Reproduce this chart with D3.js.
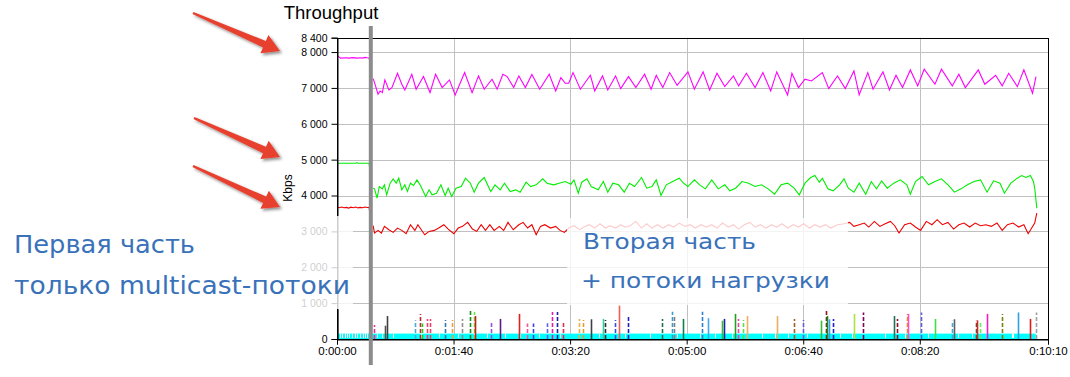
<!DOCTYPE html>
<html><head><meta charset="utf-8">
<script src="https://cdn.jsdelivr.net/npm/d3@7"></script>
<style>body{margin:0;background:#fff}svg{display:block}</style>
</head><body>
<svg id="c" width="1070" height="377"></svg>
<script>
// ---------------- DATA ----------------
const yTicks = [0,1000,2000,3000,4000,5000,6000,7000,8000,8400];
const xTicks = [0,100,200,300,400,500,610];
const breakTime = 29;

const magentaPart1 = [[0,7900],[2,7860],[3,7830],[8,7840],[10,7830],[14,7845],[17,7830],[20,7840],[22,7830],[24,7850],[26,7840],[27.5,7835],[28,7760]];
const magentaPart2 = [[31,7260],[32.2,7149],[35.2,6823],[37,6916],[38.9,6870],[41.1,7223],[44.5,6944],[47.1,7009],[51.9,7409],[55.6,7102],[58.2,6944],[64.2,7381],[67.9,6963],[74.2,7316],[79.8,6870],[84.6,7381],[90.2,7009],[96.5,7223],[101.4,6805],[109.5,7428],[115.9,6870],[121.4,7335],[126.3,6963],[133,7242],[137.4,6963],[142.3,7381],[146,7316],[151.6,7009],[156,7335],[161.6,7009],[167.2,7372],[173.9,6963],[182.1,7381],[187.6,6916],[192.1,7288],[195.8,7130],[198.8,7130],[202.5,7428],[208.8,6963],[217.4,7353],[221.1,6916],[227.8,7335],[232.3,6944],[239,7335],[243.4,6981],[250.1,7316],[256.4,7009],[263.9,7381],[269.5,6963],[273.9,7353],[279.5,7009],[285.4,7428],[291.8,7074],[301.1,7446],[306.6,6963],[314.1,7446],[319.7,6944],[326,7409],[332.7,7037],[340.1,7335],[344.6,7056],[351.3,7409],[358.7,7009],[365.4,7428],[372.1,6916],[377.3,7446],[386.6,6805],[390.3,7409],[395.9,7009],[401.5,7242],[407.1,7195],[416.4,7428],[421.9,6981],[429.4,7335],[436.1,6981],[443.5,7474],[448,6805],[455.4,7428],[459.9,6963],[468.4,7446],[474,6944],[479.6,7353],[485.2,7009],[491.9,7502],[498.2,7056],[503.8,7521],[513,7102],[518.6,7521],[527.9,7056],[533.5,7381],[539.1,7009],[550.2,7502],[555.8,7102],[565.1,7353],[570.7,7056],[576.3,7409],[583.7,7037],[589.3,7502],[596.7,6851],[599.7,7316]];

const greenPart1 = [[0,4900],[16,4900],[17,4920],[18,4900],[27.5,4900],[28,4760]];
const greenPart2 = [[31,4205],[32.2,4186],[34.4,3926],[36.3,4251],[38.9,4186],[40.7,4298],[42.6,4019],[45.6,4344],[48.2,4465],[50.8,4344],[53,4484],[55.6,4158],[58.2,4298],[60.4,4112],[63,4344],[65.7,4279],[68.6,4437],[71.6,4279],[76.1,3972],[79,4158],[81.6,4019],[85.4,4065],[89.1,4298],[92.8,4000],[95.4,4205],[98.4,3972],[102.1,4205],[106.6,4251],[110.3,4484],[114.4,4344],[117.7,4093],[121.4,4344],[126.3,4502],[131.9,4112],[135.6,4298],[140,4158],[143.7,4344],[148.6,4112],[153.4,4158],[157.1,4093],[162.3,4372],[166.1,4251],[170.9,4298],[176.5,4465],[180.2,4344],[185.8,4298],[190.6,4344],[195.8,4391],[200.7,4316],[203.3,4437],[207,4065],[210,4372],[214.4,4465],[218.1,4251],[224.1,4158],[228.5,4391],[232.3,4093],[236.7,4344],[241.6,4298],[246.4,4093],[250.9,4344],[255.3,4251],[261.3,4502],[265.7,4205],[270.2,4251],[273.9,4437],[278,4000],[282.5,4298],[288,4391],[293.6,4484],[297.3,4344],[301.1,4251],[306.6,4437],[311.1,4298],[316,4186],[321.5,4437],[327.1,4186],[332.7,4298],[337.1,4130],[342,4205],[347.5,4391],[353.1,4344],[358.7,4251],[364.3,4298],[369.9,4186],[375.4,4037],[381,4298],[386.6,4344],[392.2,4205],[396.6,4019],[401.5,4344],[406.3,4502],[410,4558],[413.8,4372],[416.4,4484],[421.2,4186],[425.7,4130],[431.2,4298],[435,4465],[438.7,4205],[443.5,4093],[448,4344],[453.6,4037],[458.4,4391],[462.8,4186],[467.3,4409],[472.1,4205],[477.7,4344],[483.3,4437],[488.9,4298],[491.9,4037],[496.3,4391],[501.9,4530],[507.5,4298],[513,4391],[518.6,4465],[524.2,4298],[529.8,4093],[535.4,4186],[540.9,4298],[546.5,4391],[552.1,4437],[557.7,4093],[563.3,4409],[568.8,4344],[572.6,4065],[578.1,4344],[583.7,4484],[587.4,4558],[591.1,4502],[594.9,4558],[597.5,4391],[598.6,4205],[600.4,3650]];

const redPart1 = [[0,3680],[2,3660],[4,3680],[6,3660],[8,3670],[10,3650],[12,3675],[14,3660],[16,3680],[18,3655],[20,3670],[22,3660],[24,3680],[26,3665],[27.5,3670],[28,3550]];
const redPart2 = [[31,3158],[32.2,2953],[35.2,3028],[38.1,2953],[40.7,3140],[44.5,3047],[48.2,2972],[51.9,3093],[55.6,3028],[59.3,2935],[63,3186],[66.8,3028],[69.4,3186],[72.3,3047],[75.3,2907],[79,3000],[83.5,3028],[87.2,3093],[91.7,3186],[95.4,3065],[100.2,2935],[104,3093],[107.7,3140],[112.1,3251],[116.2,3065],[119.9,3000],[123.7,3186],[127.4,3028],[131.1,3186],[134.8,3028],[139.3,3140],[143,3028],[146.7,3251],[151.2,3047],[156,3186],[159.7,3251],[163.5,3093],[167.2,3186],[170.9,2907],[174.6,3140],[178.3,3186],[183.2,3093],[187.6,3140],[191.4,3028],[195.1,2972],[198.8,3093],[203.3,3158],[208.1,3047],[211.8,3121],[216.6,3186],[221.1,3093],[225.6,3214],[230.4,3093],[234.1,3158],[239,3093],[243.4,3186],[247.1,3121],[251.6,3158],[256.4,3279],[261.3,3093],[265.7,3214],[270.2,3093],[275,3186],[279.9,3093],[284.3,3186],[288.8,3121],[293.6,3233],[298.5,3140],[302.9,3186],[307.4,3093],[312.2,3186],[317.1,3121],[321.5,3186],[326,3093],[330.8,3233],[335.7,3121],[340.1,3186],[344.6,3065],[349.4,3186],[354.2,3251],[358.7,3121],[363.2,3186],[368,3093],[372.8,3186],[377.3,3121],[381.8,3214],[386.6,3093],[391.4,3186],[395.9,3121],[400.4,3214],[405.2,3093],[410,3186],[414.5,3121],[419,3186],[423.8,3093],[429.4,3186],[435,3214],[439.8,3251],[443.5,3140],[448,3186],[452.4,3233],[456.2,3121],[461,3279],[465.8,3140],[470.3,3214],[474.8,3279],[478.5,3158],[482.2,2953],[487,3186],[491.9,3233],[496.3,3121],[500.7,3028],[505.6,3279],[510.4,3186],[514.9,3326],[519.4,3186],[524.2,3251],[529,3065],[533.5,3186],[538,3233],[542.8,3121],[547.6,3233],[552.1,3158],[556.6,3186],[561.4,3140],[566.2,3233],[570.7,3028],[575.2,3186],[580,3233],[584.8,3121],[589.3,3186],[593,2935],[596,3093],[598.6,3233],[600.4,3512]];

// background multicast load (cyan band)
const cyanLevel = 150;
const cyanEnd = 599.5;
const cyanGaps = [2.6,4.6,6.6,8.6,10.6,12.6,15.4,17.4,19.7,22,24,26,34.6,38.3,48.3,72.1,87.8,103.5,117.5,129,144.4,157,173.6,191.3,225.1,247.1,268.5,291.4,311.4,324.3,338.6,364.4,375.8,387.2,403,431.5,441.6,470.2,487.3,507.3,533,544.5,578.8,580.2];

// load-stream bursts: [time s, peak Kbps, colour, dashed]
const spikeTimes  = [0,32,41.2,43.2,66.9,71.2,72.9,77.5,79.8,92.7,98.4,107,114.1,117.5,118.4,132.1,139.8,156.4,163.3,168.4,179.9,184.2,189,193.6,207.9,210.8,217.6,228.5,229.9,238.5,242.2,249.9,278.6,287.1,289.1,297.1,313.4,318.5,330,332,341.5,343.8,348.1,352,377.2,392.1,399.5,415,419.3,420.5,422.1,425.3,443.8,451.5,478.1,480.2,488.8,490.1,501,513,527.9,529.6,548,548.8,551.7,557.9,570.8,584.5,594.6,599.4];
const spikePeaks  = [810,390,370,640,520,700,430,560,560,530,530,560,820,750,640,500,560,700,430,430,440,750,750,480,560,530,550,560,530,530,930,640,560,760,670,560,760,580,510,560,700,560,530,640,640,560,530,510,830,640,550,560,700,740,640,560,700,700,740,560,510,550,510,520,480,700,700,740,560,740];
const spikeColors = ["#000000","#e0309a","#505050","#404040","#4aa8e0","#c0282a","#22cc22","#f04070","#f04070","#2a7ab0","#f0a030","#909090","#1a8a1a","#66ee44","#d01818","#9a50e0","#5a1a8a","#e02020","#ff50a0","#4040e0","#6060f0","#e020a0","#2020a0","#e03050","#f0b040","#e0a030","#404040","#30d0a0","#303030","#3050e0","#f06050","#2020c0","#207050","#3a9ad0","#808080","#108050","#2a80d0","#40a8f0","#30c030","#2020b0","#20a020","#f040a0","#50e050","#f0b060","#e8b060","#a06020","#6060e0","#30c030","#8a1a1a","#1a8a1a","#30a0f0","#2020c0","#b0e040","#800060","#207050","#901030","#e09020","#ff50c0","#6060e0","#40e040","#40a8e0","#606060","#306050","#e02020","#60f060","#f020c0","#808010","#30a0e0","#e01818","#a0a0a0"];
const spikeDashed = [0,1,0,0,1,1,1,1,1,1,1,1,1,1,0,1,0,0,1,1,1,1,1,1,1,1,0,0,1,1,0,1,1,1,1,0,1,0,0,0,0,1,1,0,0,1,1,0,1,0,0,1,0,1,0,1,1,0,1,0,1,0,1,0,1,0,1,0,0,1];

// ---------------- CHART ----------------
const svg = d3.select("#c");
const x = d3.scaleLinear().domain([0,610]).range([337,1048]);
const y = d3.scaleLinear().domain([0,8400]).range([339,37.7]);
const loc = d3.formatLocale({decimal:".",thousands:"\u00a0",grouping:[3],currency:["",""]});
const fmtY = loc.format(",d");
const fmtT = s => { const h=Math.floor(s/3600), m=Math.floor((s%3600)/60), ss=Math.round(s%60);
  return h+":"+String(m).padStart(2,"0")+":"+String(ss).padStart(2,"0"); };
const FONT = "'Liberation Sans', Arial, sans-serif";

const defs = svg.append("defs");
const f = defs.append("filter").attr("id","sh").attr("x","-20%").attr("y","-50%").attr("width","150%").attr("height","200%");
f.append("feDropShadow").attr("dx",2).attr("dy",2).attr("stdDeviation",1.4).attr("flood-color","#000").attr("flood-opacity",0.45);
defs.append("clipPath").attr("id","pc").append("rect")
  .attr("x",x(0)).attr("y",y(8400)).attr("width",x(610)-x(0)).attr("height",y(0)-y(8400));

// gridlines
svg.append("g").selectAll("line").data(yTicks.filter(d=>d>0 && d<8400)).join("line")
  .attr("x1",x(0)).attr("x2",x(610)).attr("y1",d=>Math.round(y(d))+0.5).attr("y2",d=>Math.round(y(d))+0.5)
  .attr("stroke","#c0c0c0").attr("stroke-width",1);
svg.append("g").selectAll("line").data(xTicks.filter(d=>d>0 && d<610)).join("line")
  .attr("x1",d=>Math.round(x(d))+0.5).attr("x2",d=>Math.round(x(d))+0.5).attr("y1",y(8400)).attr("y2",y(0))
  .attr("stroke","#c0c0c0").attr("stroke-width",1);

const plot = svg.append("g").attr("clip-path","url(#pc)");

// cyan band
plot.append("rect").attr("x",x(0)).attr("y",y(cyanLevel)).attr("width",x(cyanEnd)-x(0)).attr("height",y(0)-y(cyanLevel))
  .attr("fill","#00ffff");
plot.append("g").selectAll("line").data(cyanGaps).join("line")
  .attr("x1",d=>Math.round(x(d))+0.5).attr("x2",d=>Math.round(x(d))+0.5)
  .attr("y1",y(cyanLevel)).attr("y2",y(0)-1).attr("stroke","#fff").attr("stroke-width",1);

// spikes
plot.append("g").selectAll("line").data(spikeTimes.map((t,i)=>({t,p:spikePeaks[i],c:spikeColors[i],d:spikeDashed[i]}))).join("line")
  .attr("x1",d=>Math.round(x(d.t))+0.5).attr("x2",d=>Math.round(x(d.t))+0.5)
  .attr("y1",y(0)).attr("y2",d=>y(d.p))
  .attr("stroke",d=>d.c).attr("stroke-width",1.6)
  .attr("stroke-dasharray",d=>d.d?"4,2":null);

// series lines
const line = d3.line().x(d=>x(d[0])).y(d=>y(d[1]));
const series = [[magentaPart1,"#ff00ff"],[magentaPart2,"#ff00ff"],[greenPart1,"#00ee00"],[greenPart2,"#00ee00"],[redPart1,"#ee0000"],[redPart2,"#ee0000"]];
plot.append("g").selectAll("path").data(series).join("path")
  .attr("d",d=>line(d[0])).attr("fill","none").attr("stroke",d=>d[1]).attr("stroke-width",1.1);

// frame & axes
svg.append("rect").attr("x",x(0)+0.5).attr("y",Math.round(y(8400))+0.5).attr("width",x(610)-x(0)).attr("height",Math.round(y(0))-Math.round(y(8400)))
  .attr("fill","none").attr("stroke","#000").attr("stroke-width",1);
const yAxis = svg.append("g").attr("transform",`translate(${x(0)+0.5},0)`)
  .call(d3.axisLeft(y).tickValues(yTicks).tickFormat(fmtY).tickSize(6).tickPadding(4));
const xAxis = svg.append("g").attr("transform",`translate(0,${Math.round(y(0))+0.5})`)
  .call(d3.axisBottom(x).tickValues(xTicks).tickFormat(fmtT).tickSize(5).tickPadding(2));
[yAxis,xAxis].forEach(a=>{ a.select(".domain").attr("stroke","#000");
  a.selectAll(".tick line").attr("stroke","#000");
  a.selectAll("text").attr("fill","#000").attr("font-family",FONT); });
yAxis.selectAll("text").attr("font-size","10.5px");
xAxis.selectAll("text").attr("font-size","11.5px");

svg.append("text").attr("x",331).attr("y",19).attr("text-anchor","middle").attr("font-family",FONT)
  .attr("font-size","18.5px").text("Throughput");
svg.append("text").attr("transform","translate(292,188) rotate(-90)").attr("text-anchor","middle")
  .attr("font-family",FONT).attr("font-size","12px").text("Kbps");

// ---------------- ANNOTATIONS ----------------
svg.append("rect").attr("x",0).attr("y",216).attr("width",353).attr("height",93).attr("fill","#fff").attr("opacity",0.8);
svg.append("rect").attr("x",567).attr("y",218).attr("width",281).attr("height",87).attr("fill","#fff").attr("opacity",0.8);
const AF = "'DejaVu Sans', sans-serif", AC = "#3a72ba";
const notes = [["Первая часть",14,253,181,25],["только multicast-потоки",14,294,336,25],["Вторая часть",583,249,173,22],["+ потоки нагрузки",581,288,249,22]];
svg.append("g").selectAll("text").data(notes).join("text")
  .attr("x",d=>d[1]).attr("y",d=>d[2]).attr("textLength",d=>d[3]).attr("lengthAdjust","spacingAndGlyphs")
  .attr("font-family",AF).attr("font-size",d=>d[4]+"px").attr("fill",AC).text(d=>d[0]);

// divider between the two parts
svg.append("line").attr("x1",x(breakTime)).attr("x2",x(breakTime)).attr("y1",26).attr("y2",365)
  .attr("stroke","#8c8c8c").attr("stroke-width",4);

// arrows
function arrowPath(x1,y1,x2,y2){
  const L=Math.hypot(x2-x1,y2-y1), ux=(x2-x1)/L, uy=(y2-y1)/L, nx=-uy, ny=ux;
  const hl=17, hw=10, sw0=1.2, sw1=3.5;
  const bx=x2-ux*hl, by=y2-uy*hl;
  const p=[[x1+nx*sw0,y1+ny*sw0],[bx+nx*sw1,by+ny*sw1],[bx+nx*hw,by+ny*hw],[x2,y2],[bx-nx*hw,by-ny*hw],[bx-nx*sw1,by-ny*sw1],[x1-nx*sw0,y1-ny*sw0]];
  return "M"+p.map(q=>q.join(",")).join("L")+"Z";
}
const arrows = [[193,13,280,51],[194,118,280,157],[193,166,280,207]];
svg.append("g").selectAll("path").data(arrows).join("path")
  .attr("d",d=>arrowPath(...d)).attr("fill","#e8402e").attr("filter","url(#sh)");
</script>
</body></html>
